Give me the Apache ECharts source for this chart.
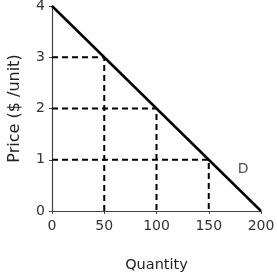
<!DOCTYPE html>
<html><head><meta charset="utf-8">
<script src="https://cdn.jsdelivr.net/npm/echarts@6/dist/echarts.min.js"></script>
<style>html,body{margin:0;padding:0;background:#fff}#c{width:277px;height:274px}</style>
</head><body><div id="c"></div>
<script>
const demandQ = [0, 200];
const demandP = [4, 0];
const guideQ = [50, 100, 150];
const guideP = [3, 2, 1];
const xTicks = [0, 50, 100, 150, 200];
const yTicks = [0, 1, 2, 3, 4];
const curveLabel = 'D';
const labelPoint = [183, 0.82];

const font = 'DejaVu Sans';
const guides = guideQ.map((q, i) => ({
  type: 'line', symbol: 'none', silent: true,
  data: [[0, guideP[i]], [q, guideP[i]], [q, 0]],
  lineStyle: { color: '#000', width: 2, type: [6, 4] }
}));

const chart = echarts.init(document.getElementById('c'));
chart.setOption({
  animation: false,
  grid: { left: 52, right: 16, top: 6, bottom: 63, outerBoundsMode: 'none', containLabel: false },
  xAxis: {
    type: 'value', min: 0, max: 200, interval: 50,
    name: 'Quantity', nameLocation: 'middle', nameGap: 47,
    nameTextStyle: { fontFamily: font, fontSize: 14.5, color: '#222' },
    axisLine: { lineStyle: { color: '#444', width: 1.2 } },
    axisTick: { show: true, length: 3, lineStyle: { color: '#444' } },
    axisLabel: { fontFamily: font, fontSize: 14, color: '#333', margin: 8 },
    splitLine: { show: false }
  },
  yAxis: {
    type: 'value', min: 0, max: 4, interval: 1,
    name: 'Price ($ /unit)', nameLocation: 'middle', nameGap: 29, nameRotate: 90,
    nameTextStyle: { fontFamily: font, fontSize: 16, color: '#222' },
    axisLine: { show: true, lineStyle: { color: '#444', width: 1.2 } },
    axisTick: { show: true, length: 3, lineStyle: { color: '#444' } },
    axisLabel: { fontFamily: font, fontSize: 14, color: '#333', margin: 7 },
    splitLine: { show: false }
  },
  series: [
    ...guides,
    {
      type: 'line', symbol: 'none', silent: true,
      data: demandQ.map((q, i) => [q, demandP[i]]),
      lineStyle: { color: '#000', width: 2.5 }
    },
    {
      type: 'scatter', symbolSize: 0, silent: true,
      data: [labelPoint],
      label: { show: true, formatter: curveLabel, position: 'inside',
        fontFamily: font, fontSize: 14, color: '#222' }
    }
  ]
});
</script></body></html>
